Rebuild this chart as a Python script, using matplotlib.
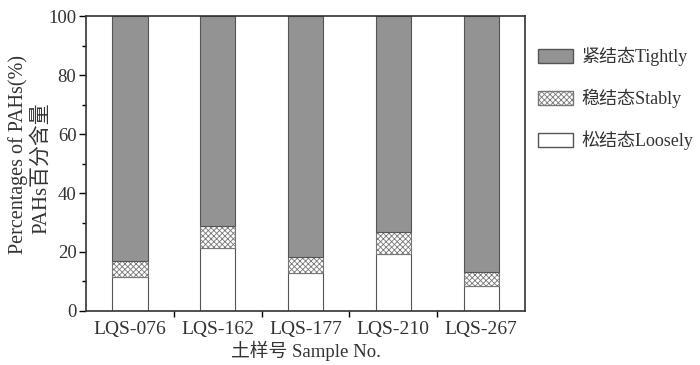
import matplotlib
matplotlib.use("Agg")
import matplotlib.pyplot as plt
import numpy as np
from matplotlib.patches import Patch
from matplotlib.ticker import MultipleLocator, FixedLocator

samples = ["LQS-076", "LQS-162", "LQS-177", "LQS-210", "LQS-267"]
loosely = [11.6, 21.5, 12.8, 19.2, 8.5]
stably = [5.4, 7.4, 5.4, 7.6, 4.7]
tightly = [100 - a - b for a, b in zip(loosely, stably)]

plt.rcParams["font.family"] = ["Liberation Serif", "Noto Sans CJK SC"]
plt.rcParams["hatch.linewidth"] = 0.6

fig = plt.figure(figsize=(7.0, 3.65), dpi=100)
ax = fig.add_axes([0.123, 0.148, 0.627, 0.808])

x = np.arange(len(samples))
w = 0.4
ec = "#555555"
tc = "#333333"
fs = 14
ax.bar(x, loosely, w, color="white", edgecolor=ec, linewidth=0.8)
ax.bar(x, stably, w, bottom=loosely, color="white", edgecolor="#777777",
       hatch="xxxxxx", linewidth=0.8)
bot = [a + b for a, b in zip(loosely, stably)]
ax.bar(x, tightly, w, bottom=bot, color="#939393", edgecolor=ec, linewidth=0.8)

ax.set_xlim(-0.5, 4.5)
ax.set_ylim(0, 100)
ax.yaxis.set_major_locator(MultipleLocator(20))
ax.yaxis.set_minor_locator(MultipleLocator(10))
ax.set_xticks(x)
ax.set_xticklabels(samples, fontsize=fs, color=tc)
ax.xaxis.set_minor_locator(FixedLocator(np.arange(0.5, 4.5, 1.0)))
ax.tick_params(axis="x", which="major", length=0, pad=7)
ax.tick_params(axis="x", which="minor", length=4, direction="out", width=1)
ax.tick_params(axis="y", which="major", length=5, direction="out", width=1,
               labelsize=fs - 0.5, labelcolor=tc, pad=2)
ax.tick_params(axis="y", which="minor", length=3, direction="out", width=1)
for s in ax.spines.values():
    s.set_linewidth(1.2)
    s.set_color(tc)

# two-line y label, placed as separate texts
fig.text(18 / 700, 1 - 154 / 365, "Percentages of PAHs(%)", rotation=90,
         ha="center", va="center", fontsize=14.5, color=tc)
fig.text(41 / 700, 1 - 168 / 365, "PAHs百分含量", rotation=90,
         ha="center", va="center", fontsize=15, color=tc)
ax.set_xlabel("土样号 Sample No.", fontsize=fs - 0.5, color=tc, labelpad=2)

handles = [
    Patch(facecolor="#939393", edgecolor=ec, label="紧结态Tightly"),
    Patch(facecolor="white", edgecolor="#777777", hatch="xxxxxx", label="稳结态Stably"),
    Patch(facecolor="white", edgecolor=ec, label="松结态Loosely"),
]
leg = ax.legend(handles=handles, loc="upper left", bbox_to_anchor=(1.03, 0.895),
                frameon=False, fontsize=13, handlelength=1.95, handleheight=0.8,
                labelspacing=1.25, handletextpad=0.45, borderaxespad=0,
                borderpad=0)
for t in leg.get_texts():
    t.set_color(tc)

fig.savefig("out.png", dpi=100)
